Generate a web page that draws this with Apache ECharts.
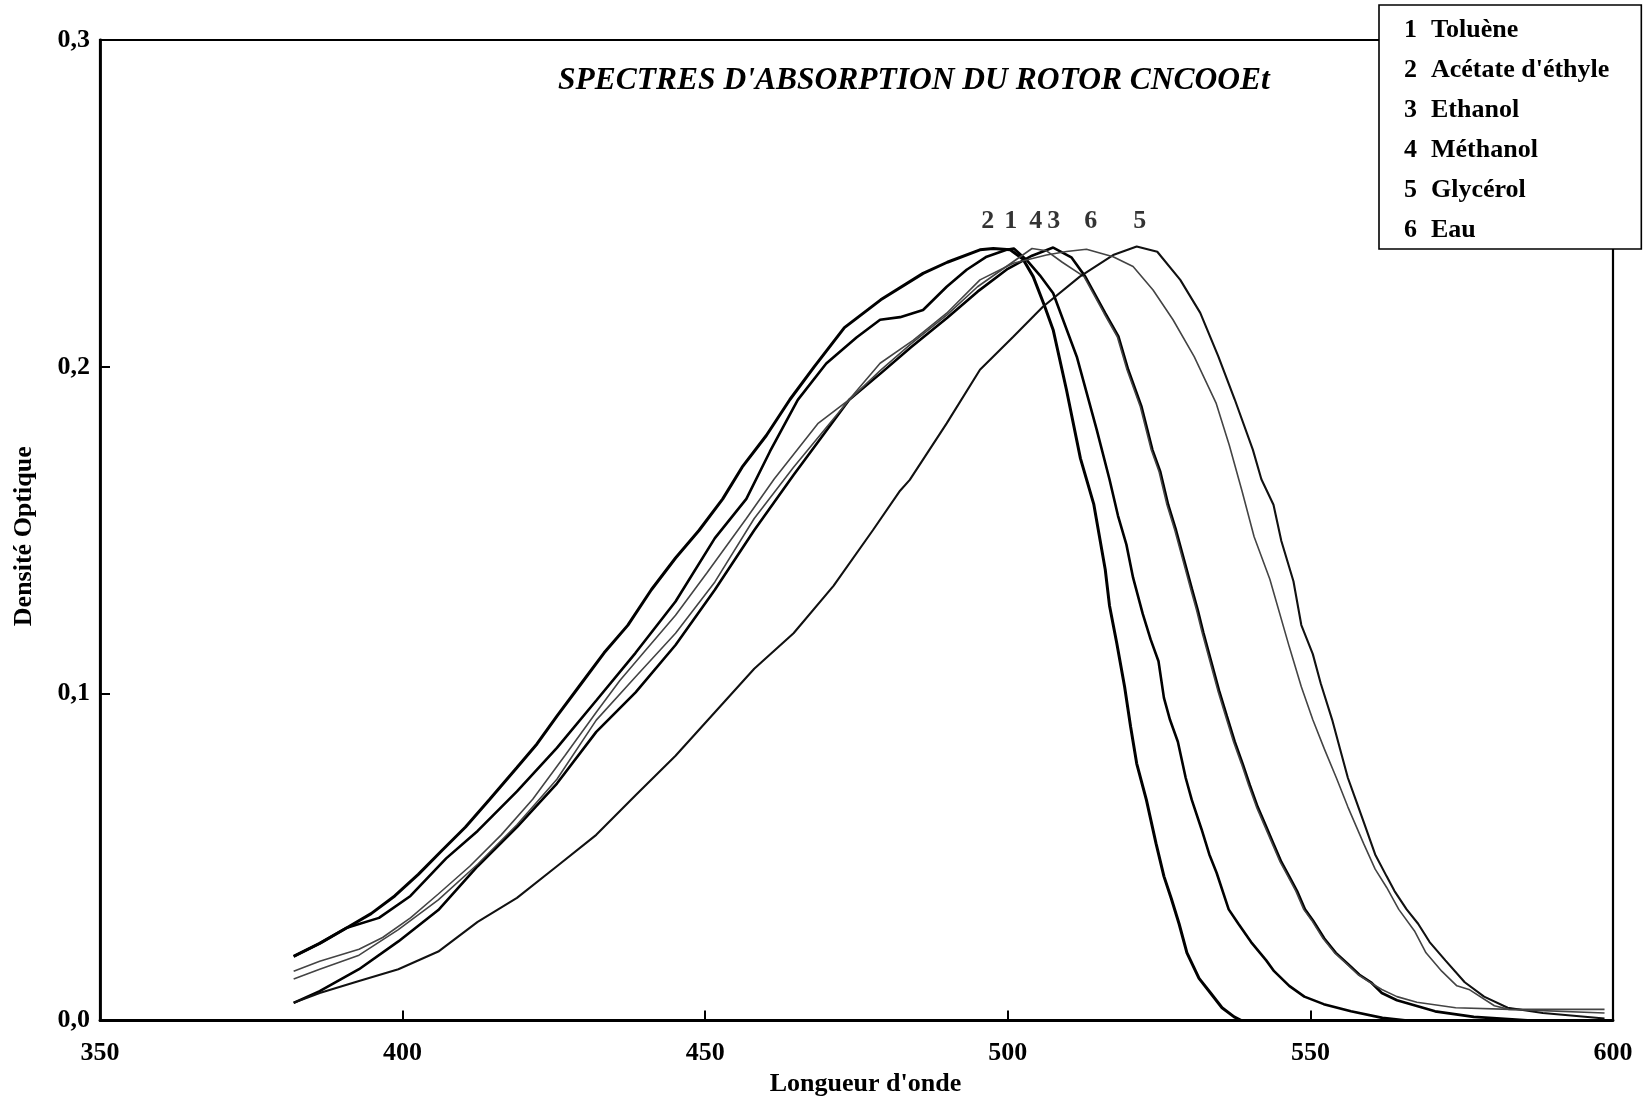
<!DOCTYPE html>
<html><head><meta charset="utf-8">
<script src="https://cdn.jsdelivr.net/npm/echarts@6/dist/echarts.min.js"></script>
<style>html,body{margin:0;padding:0;background:#fff}#c{width:1652px;height:1105px}</style>
</head><body><div id="c"></div>
<script>
// ---------- data ----------
const solventNumbers = ['1', '2', '3', '4', '5', '6'];
const solventNames = ['Toluène', "Acétate d'éthyle", 'Ethanol', 'Méthanol', 'Glycérol', 'Eau'];
const xTickValues = [350, 400, 450, 500, 550, 600];
const yTickValues = [0, 0.1, 0.2, 0.3];
const peakLabelText = ['2', '1', '4', '3', '6', '5'];
const peakLabelX = [496.7, 500.5, 504.6, 507.6, 513.7, 521.8];
const peakLabelY = [0.2444, 0.2444, 0.2444, 0.2444, 0.2444, 0.2444];

// 1 Toluène
const toluene = [[382,0.0196],[386.3,0.0236],[390.8,0.0284],[396.1,0.0314],[401.3,0.0381],[407.2,0.0496],[412.4,0.058],[418.9,0.0701],[425.5,0.0834],[432,0.0979],[438.5,0.1125],[445.1,0.1282],[451.6,0.1476],[456.8,0.1596],[460.7,0.1741],[465.3,0.1899],[470,0.201],[475,0.209],[478.9,0.2144],[482.2,0.2152],[486,0.2174],[489.9,0.2245],[493.2,0.2297],[496.5,0.2337],[499.8,0.2358],[501,0.2362],[503.1,0.2327],[505.3,0.228],[507.5,0.2225],[511.4,0.2031],[514.7,0.1807],[516.8,0.1656],[518.2,0.1545],[519.6,0.1456],[520.7,0.1355],[522.3,0.1244],[523.6,0.1166],[524.9,0.1099],[525.8,0.0987],[526.8,0.092],[528.1,0.0853],[529.4,0.0742],[530.4,0.0675],[532,0.0586],[533.3,0.0508],[534.5,0.0452],[536.5,0.034],[538.1,0.0296],[540.2,0.024],[542.7,0.0184],[544,0.0151],[546.5,0.0106],[549,0.0073],[552.2,0.005],[556.7,0.0028],[561.9,0.0008],[566,0],[598,0]];
// 2 Acétate d'éthyle
const acetate = [[382,0.0196],[386.3,0.0236],[390.8,0.0284],[394.8,0.0327],[398.7,0.0381],[402.6,0.0447],[406.5,0.052],[410.4,0.0592],[414.4,0.0677],[418.9,0.0774],[422.2,0.0846],[425.5,0.0931],[429.4,0.1028],[433.3,0.1125],[437.2,0.1209],[441.1,0.1318],[445.1,0.1415],[449,0.15],[452.9,0.1596],[456.1,0.1693],[460.1,0.179],[464,0.19],[468,0.2],[473,0.212],[479,0.2205],[486,0.2286],[490,0.232],[495.4,0.2358],[497.6,0.2362],[500.4,0.2358],[502.5,0.233],[504.2,0.2276],[506,0.219],[507.5,0.2113],[509.7,0.1929],[512,0.172],[514.2,0.158],[516.1,0.138],[516.8,0.127],[518,0.1155],[519.3,0.1021],[520.3,0.0898],[521.3,0.0786],[522.9,0.0675],[524.5,0.0541],[525.8,0.0441],[527,0.0374],[528.3,0.0296],[529.6,0.0207],[531.6,0.0129],[533.5,0.0084],[535.4,0.0039],[537.4,0.0011],[538.6,0],[598,0]];
// 3 Ethanol
const ethanol = [[382,0.0054],[386.3,0.009],[392.8,0.0157],[399.3,0.0242],[405.9,0.0338],[412.4,0.0472],[418.9,0.0592],[425.5,0.0725],[432,0.0883],[438.5,0.1004],[445.1,0.1149],[451.6,0.1318],[458.1,0.15],[464.6,0.1669],[473.8,0.1899],[479,0.198],[484,0.206],[490,0.215],[495,0.223],[500,0.23],[504,0.234],[507.5,0.2365],[510.5,0.2335],[512.8,0.2276],[516.1,0.2164],[518.3,0.2092],[519.9,0.1991],[522.1,0.1878],[523.9,0.1746],[525.2,0.1679],[526.5,0.1578],[527.8,0.15],[529.1,0.1411],[530.4,0.1322],[531.4,0.1255],[532.3,0.1188],[533.6,0.1099],[534.9,0.101],[536.2,0.0931],[537.5,0.0853],[538.8,0.0786],[540,0.072],[541.3,0.0653],[542.6,0.0597],[543.9,0.0541],[545.2,0.0485],[546.5,0.0441],[547.8,0.0396],[549.1,0.034],[550.4,0.0307],[552.3,0.0251],[554.2,0.0207],[556.2,0.0173],[558.1,0.014],[560,0.0117],[561.8,0.0084],[564.3,0.0062],[570.6,0.0028],[577,0.0011],[586.5,0],[598,0]];
// 4 Méthanol
const methanol = [[382,0.0127],[386.3,0.0157],[392.8,0.02],[399.3,0.0278],[405.9,0.0369],[412.4,0.0478],[418.9,0.0599],[425.5,0.0738],[432,0.0919],[438.5,0.1052],[445.1,0.1185],[451.6,0.1342],[458.1,0.1536],[464.6,0.1693],[473.8,0.1899],[479,0.199],[484,0.207],[490,0.216],[495,0.2245],[500,0.231],[504,0.2362],[506.4,0.2355],[509,0.232],[512.6,0.2276],[515.9,0.2164],[518.1,0.2092],[519.7,0.1991],[521.9,0.1878],[523.7,0.1746],[525,0.1679],[526.3,0.1578],[527.6,0.15],[528.9,0.1411],[530.2,0.1322],[531.2,0.1255],[532.1,0.1188],[533.4,0.1099],[534.7,0.101],[536,0.0931],[537.3,0.0853],[538.6,0.0786],[539.8,0.072],[541.1,0.0653],[542.4,0.0597],[543.7,0.0541],[545,0.0485],[546.3,0.0441],[547.6,0.0396],[548.9,0.034],[550.2,0.0307],[552.1,0.0251],[554,0.0207],[556,0.0173],[557.9,0.014],[559.8,0.0117],[561.8,0.0095],[564.3,0.0073],[567.6,0.0056],[574,0.0039],[583,0.0034],[598.6,0.0034]];
// 5 Glycérol
const glycerol = [[382,0.0054],[386.3,0.0084],[392.8,0.0121],[399.3,0.0157],[405.9,0.0211],[412.4,0.0302],[418.9,0.0375],[425.5,0.0472],[432,0.0568],[438.5,0.0689],[445.1,0.081],[451.6,0.0943],[458.1,0.1076],[464.6,0.1185],[471.2,0.133],[477.7,0.15],[482.2,0.1621],[483.8,0.1654],[489.9,0.1827],[495.4,0.1991],[500.9,0.2092],[505.8,0.2184],[511.9,0.2276],[517.4,0.2342],[521.3,0.2368],[524.7,0.2352],[528.5,0.2266],[531.8,0.2165],[534.8,0.2031],[537.5,0.19],[540.5,0.1746],[541.9,0.1656],[543.9,0.1578],[545.2,0.1467],[547.2,0.1344],[548.5,0.121],[550.4,0.1121],[551.7,0.1032],[553.6,0.092],[554.9,0.0831],[556.2,0.0742],[557.5,0.0675],[558.8,0.0608],[560.7,0.0508],[562.6,0.0441],[563.9,0.0396],[565.9,0.034],[567.8,0.0296],[569.7,0.024],[572.3,0.0184],[575.5,0.0117],[578.7,0.0073],[582.6,0.0039],[588.4,0.0023],[598.6,0.0006]];
// 6 Eau
const eau = [[382,0.0151],[386.3,0.0181],[392.8,0.0218],[396.7,0.0254],[401.3,0.0314],[405.9,0.0387],[411.1,0.0472],[416.3,0.0568],[421.5,0.0677],[426.8,0.081],[432,0.0943],[435.9,0.104],[439.8,0.1125],[445.1,0.124],[450.3,0.137],[456.8,0.1536],[461.4,0.1657],[468.6,0.1826],[473.8,0.19],[478.9,0.2011],[484.4,0.2082],[489.9,0.2164],[495.4,0.2266],[500.9,0.2317],[506.4,0.2342],[509.7,0.2353],[513,0.236],[517.4,0.2337],[520.7,0.2307],[524,0.2235],[527.3,0.2144],[530.8,0.2031],[534.4,0.189],[536.6,0.176],[538.7,0.162],[540.7,0.148],[543.3,0.135],[546.5,0.1144],[548.5,0.1021],[550.4,0.092],[552.3,0.0831],[554.3,0.0742],[556.2,0.0653],[558.8,0.0541],[560.7,0.0463],[562.6,0.0407],[564.6,0.034],[567.2,0.0274],[569.1,0.0207],[571.7,0.0151],[574.2,0.0106],[576.2,0.0095],[580.4,0.0045],[582.8,0.0034],[598.6,0.0023]];

// ---------- build ----------
const seriesData = [toluene, acetate, ethanol, methanol, glycerol, eau];
const lineStyles = [
  {color:'#000', width:2.6},
  {color:'#000', width:3},
  {color:'#000', width:2.6},
  {color:'#444', width:1.6},
  {color:'#111', width:2.1},
  {color:'#444', width:1.6}
];
const serif = '"Liberation Serif", "Times New Roman", serif';
const chart = echarts.init(document.getElementById('c'), null, {renderer:'canvas'});

const series = seriesData.map((d, i) => ({
  name: solventNames[i],
  type: 'line',
  data: d,
  showSymbol: false,
  symbol: 'none',
  lineStyle: lineStyles[i],
  z: 3,
  silent: true
}));
series.push({
  name: 'peaks',
  type: 'scatter',
  symbolSize: 0,
  silent: true,
  data: peakLabelText.map((t, i) => ({name: t, value: [peakLabelX[i], peakLabelY[i]]})),
  label: {show: true, position: 'inside', formatter: p => p.name,
    fontFamily: serif, fontWeight: 'bold', fontSize: 26, color: '#000'}
});

const labelStyle = {fontFamily: serif, fontWeight: 'bold', fontSize: 26, color: '#000'};

chart.setOption({
  animation: false,
  backgroundColor: '#fff',
  title: {
    text: "SPECTRES D'ABSORPTION DU ROTOR CNCOOEt",
    left: 553, top: 60,
    textStyle: {fontFamily: serif, fontStyle: 'italic', fontWeight: 'bold', fontSize: 31.5, color: '#000'}
  },
  grid: {left: 100, top: 40, right: 39, bottom: 84.5, show: true, borderColor: '#000', borderWidth: 2.2, backgroundColor: 'transparent'},
  legend: {
    data: solventNames,
    orient: 'vertical',
    left: 1379, top: 5,
    icon: 'none', itemWidth: 0, itemHeight: 28, itemGap: 13,
    selectedMode: false,
    backgroundColor: '#fff', borderColor: '#000', borderWidth: 1.6,
    padding: [11, 32, 6, 20],
    formatter: name => '{n|' + solventNumbers[solventNames.indexOf(name)] + '}{t|' + name + '}',
    textStyle: {
      fontFamily: serif, fontWeight: 'bold', fontSize: 26, color: '#000',
      rich: {
        n: {fontFamily: serif, fontWeight: 'bold', fontSize: 26, color: '#000', width: 27, lineHeight: 28},
        t: {fontFamily: serif, fontWeight: 'bold', fontSize: 26, color: '#000', lineHeight: 28}
      }
    }
  },
  xAxis: {
    type: 'value', min: xTickValues[0], max: xTickValues[xTickValues.length - 1], interval: 50,
    axisLine: {show: true, onZero: false, lineStyle: {color: '#000', width: 2.8}},
    axisTick: {show: true, inside: true, length: 10, lineStyle: {color: '#000', width: 2}},
    axisLabel: Object.assign({margin: 20}, labelStyle),
    splitLine: {show: false},
    name: "Longueur d'onde", nameLocation: 'middle', nameGap: 46,
    nameTextStyle: Object.assign({padding: [0, 0, 0, 18]}, labelStyle)
  },
  yAxis: {
    type: 'value', min: yTickValues[0], max: yTickValues[yTickValues.length - 1], interval: 0.1,
    axisLine: {show: true, lineStyle: {color: '#000', width: 2.8}},
    axisTick: {show: true, inside: true, length: 10, lineStyle: {color: '#000', width: 2}},
    axisLabel: Object.assign({margin: 10, formatter: v => v.toFixed(1).replace('.', ',')}, labelStyle),
    splitLine: {show: false},
    name: 'Densité Optique', nameLocation: 'middle', nameGap: 63, nameRotate: 90,
    nameTextStyle: Object.assign({padding: [0, 12, 0, 0]}, labelStyle)
  },
  series: series
});
</script>
</body></html>
